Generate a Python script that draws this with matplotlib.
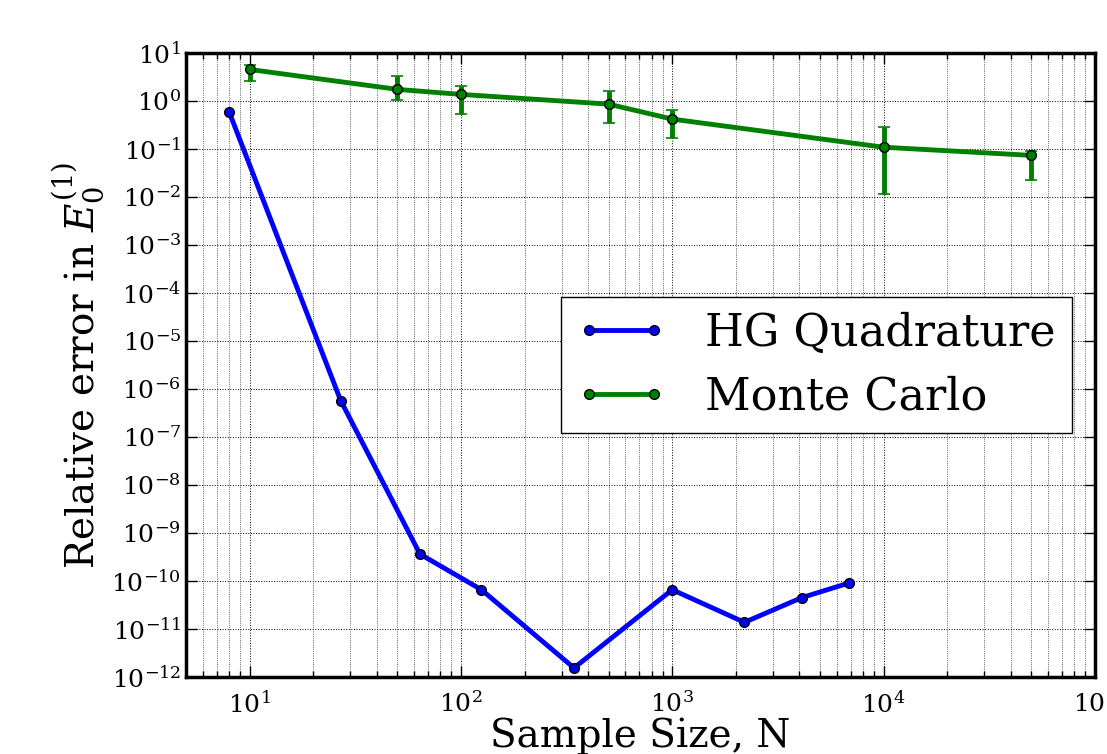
import matplotlib
matplotlib.use('Agg')
import matplotlib.pyplot as plt
import matplotlib.ticker as mticker
import numpy as np

plt.rcParams['font.family'] = 'DejaVu Serif'
plt.rcParams['mathtext.fontset'] = 'dejavuserif'
plt.rcParams['axes.unicode_minus'] = False

# HG quadrature (N = n^3)
hg_n = [8, 27, 64, 125, 343, 1000, 2197, 4096, 6859]
hg_err = [0.59, 5.7e-7, 3.65e-10, 6.6e-11, 1.55e-12, 6.6e-11, 1.38e-11, 4.5e-11, 9.1e-11]

# Monte Carlo
mc_n = [10, 50, 100, 500, 1000, 10000, 50000]
mc_err = [4.5, 1.73, 1.36, 0.853, 0.416, 0.108, 0.073]
mc_lo = [2.6, 1.03, 0.53, 0.343, 0.17, 0.0115, 0.0224]
mc_hi = [5.5, 3.27, 2.05, 1.57, 0.64, 0.29, 0.091]

mc_n = np.array(mc_n)
mc_err = np.array(mc_err)
yerr = [mc_err - np.array(mc_lo), np.array(mc_hi) - mc_err]

fig = plt.figure(figsize=(11.07, 7.54), dpi=100)
ax = fig.add_axes([0.168, 0.102, 0.821, 0.828])

ax.plot(hg_n, hg_err, '-o', color='#0000ff', lw=3.5, ms=7, mec='k', mew=1,
        label='HG Quadrature', zorder=3)
ax.errorbar(mc_n, mc_err, yerr=yerr, fmt='none', ecolor='#008000',
            elinewidth=3.5, capsize=4, capthick=1.2, zorder=3)
ax.plot(mc_n, mc_err, '-o', color='#008000', lw=3.5, ms=7, mec='k', mew=1,
        label='Monte Carlo', zorder=4)

ax.set_xscale('log')
ax.set_yscale('log')
ax.set_xlim(5, 1e5)
ax.set_ylim(1e-12, 1e1)
ax.set_yticks([10.0 ** k for k in range(-12, 2)])
ax.yaxis.set_minor_locator(mticker.NullLocator())
ax.xaxis.set_minor_locator(mticker.LogLocator(subs=np.arange(2, 10), numticks=20))
ax.xaxis.set_minor_formatter(mticker.NullFormatter())

ax.grid(True, which='major', ls=':', color='k', lw=0.7)
ax.grid(True, which='minor', axis='x', ls=':', color='k', lw=0.5)
ax.tick_params(which='both', direction='in', top=True, right=True, labelsize=18)
ax.tick_params(which='major', length=8, width=1)
ax.tick_params(which='minor', length=4, width=1)
ax.tick_params(axis='x', pad=10)
for s in ax.spines.values():
    s.set_linewidth(2.5)

ax.set_xlabel('Sample Size, N', fontsize=28, labelpad=0)
ax.set_ylabel(r'Relative error in $E_0^{(1)}$', fontsize=28, labelpad=4)

leg = ax.legend(loc='upper left', bbox_to_anchor=(0.4125, 0.392, 0.5625, 0.217),
                mode='expand', fontsize=32, numpoints=2, fancybox=False,
                handlelength=2.07, handletextpad=0.85, borderpad=0.33,
                labelspacing=0.47, borderaxespad=0, framealpha=1)
leg.get_frame().set_edgecolor('k')
leg.get_frame().set_linewidth(1)

fig.savefig('out.png', dpi=100)
